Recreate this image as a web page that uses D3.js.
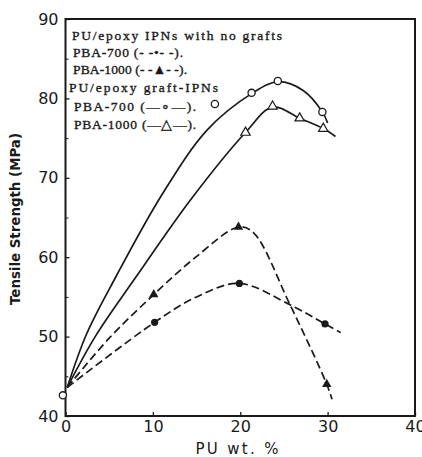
<!DOCTYPE html>
<html>
<head>
<meta charset="utf-8">
<script src="https://cdn.jsdelivr.net/npm/d3@7"></script>
<style>
  html, body { margin: 0; padding: 0; background: #fff; }
  svg { display: block; }
</style>
</head>
<body>
<div id="chart-area"></div>
<script>
// tick labels
const xTicks = [0, 10, 20, 30, 40];
const yTicks = [40, 50, 60, 70, 80, 90];
const yMinorTicks = [45, 55, 65, 75, 85];

// measured points (PU wt.%, MPa)
const graft700Pts = [[-0.3, 42.6], [17.1, 79.3], [21.3, 80.7], [24.3, 82.2], [29.4, 78.3]];
const graft1000Pts = [[20.6, 75.7], [23.7, 79.0], [26.8, 77.5], [29.5, 76.2]];
const noGraft700Pts = [[10.2, 51.8], [19.9, 56.7], [29.7, 51.6]];
const noGraft1000Pts = [[10.1, 55.3], [19.8, 63.8], [29.9, 44.0]];

// hand drawn curves
const graft700Curve = [[0.2, 43.6], [2.4, 50.3], [5.8, 57.6], [11.0, 67.8], [16.2, 76.0],
  [21.3, 80.6], [24.3, 82.1], [27.2, 81.0], [29.4, 78.3], [30.0, 76.9]];
const graft1000Curve = [[0.2, 43.6], [3.4, 50.0], [8.0, 57.4], [14.3, 67.2], [20.6, 75.7],
  [23.7, 78.9], [26.8, 77.5], [29.5, 76.2], [30.9, 75.2]];
const noGraft700Curve = [[0.2, 43.6], [10.2, 51.8], [15.0, 55.0], [19.9, 56.7],
  [25.7, 54.0], [29.7, 51.6], [31.5, 50.5]];
const noGraft1000Curve = [[0.2, 43.6], [5.0, 49.8], [10.1, 55.3], [14.9, 60.0], [19.8, 63.8],
  [21.5, 63.1], [25.7, 54.0], [29.9, 44.0], [30.5, 42.1]];

const legendLines = [
  { text: 'PU/epoxy IPNs with no grafts', x: 72, y: 40, len: 210 },
  { text: 'PBA-700 (- -\u2022- -).', x: 73, y: 57, len: 110 },
  { text: 'PBA-1000 (- -\u25B2- -).', x: 73, y: 74, len: 114 },
  { text: 'PU/epoxy graft-IPNs', x: 69, y: 92, len: 149 },
  { text: 'PBA-700 (\u2014\u2218\u2014).', x: 74, y: 111, len: 122 },
  { text: 'PBA-1000 (\u2014\u25B3\u2014).', x: 74, y: 129, len: 122 },
];

let width = 422;
let height = 457;
let ink = '#1a1a1a';

let x = d3.scaleLinear().domain([0, 40]).range([65.5, 415]);
let y = d3.scaleLinear().domain([40, 90]).range([416, 19]);

let svg = d3
  .select('#chart-area')
  .append('svg')
  .attr('width', width)
  .attr('height', height);

//frame
svg
  .append('rect')
  .attr('x', x(0))
  .attr('y', y(90))
  .attr('width', x(40) - x(0))
  .attr('height', y(40) - y(90))
  .attr('fill', 'none')
  .attr('stroke', ink)
  .attr('stroke-width', 2);

//x axis
let xAxis = svg
  .append('g')
  .attr('transform', `translate(0, ${y(40)})`)
  .call(d3.axisBottom(x).tickValues(xTicks).tickSizeInner(-4).tickSizeOuter(0).tickPadding(5));
xAxis.select('.domain').remove();
xAxis.selectAll('line').attr('stroke', ink).attr('stroke-width', 1.3);
xAxis
  .selectAll('text')
  .attr('fill', ink)
  .attr('font-family', 'DejaVu Sans')
  .attr('font-size', 16);

//y axis
let yAxis = svg
  .append('g')
  .attr('transform', `translate(${x(0)}, 0)`)
  .call(d3.axisLeft(y).tickValues(yTicks).tickSizeInner(-4).tickSizeOuter(0).tickPadding(7));
yAxis.select('.domain').remove();
yAxis.selectAll('line').attr('stroke', ink).attr('stroke-width', 1.3);
yAxis
  .selectAll('text')
  .attr('fill', ink)
  .attr('font-family', 'DejaVu Sans')
  .attr('font-size', 16);

let yMinor = svg
  .append('g')
  .attr('transform', `translate(${x(0)}, 0)`)
  .call(d3.axisLeft(y).tickValues(yMinorTicks).tickSize(-3).tickFormat(''));
yMinor.select('.domain').remove();
yMinor.selectAll('line').attr('stroke', ink).attr('stroke-width', 1);

//axis titles
svg
  .append('text')
  .text('Tensile Strength (MPa)')
  .attr('font-family', 'DejaVu Sans')
  .attr('font-weight', 'bold')
  .attr('font-size', 13.5)
  .attr('fill', ink)
  .attr('text-anchor', 'middle')
  .attr('textLength', 172)
  .attr('lengthAdjust', 'spacingAndGlyphs')
  .attr('transform', 'translate(20, 219) rotate(-90)');

svg
  .append('text')
  .text('PU wt. %')
  .attr('font-family', 'DejaVu Sans')
  .attr('font-size', 15)
  .attr('fill', ink)
  .attr('x', 237)
  .attr('y', 454)
  .attr('text-anchor', 'middle')
  .attr('textLength', 83)
  .attr('lengthAdjust', 'spacing');

//curves
let line = d3
  .line()
  .x((d) => x(d[0]))
  .y((d) => y(d[1]))
  .curve(d3.curveCatmullRom.alpha(0.5));

let curves = [
  { pts: graft700Curve, dash: null },
  { pts: graft1000Curve, dash: null },
  { pts: noGraft700Curve, dash: '8,4' },
  { pts: noGraft1000Curve, dash: '8,4' },
];
svg
  .append('g')
  .selectAll('path')
  .data(curves)
  .enter()
  .append('path')
  .attr('d', (d) => line(d.pts))
  .attr('fill', 'none')
  .attr('stroke', ink)
  .attr('stroke-width', 1.7)
  .attr('stroke-dasharray', (d) => d.dash);

//markers
let marks = svg.append('g');
marks
  .selectAll('circle.open')
  .data(graft700Pts)
  .enter()
  .append('circle')
  .attr('class', 'open')
  .attr('cx', (d) => x(d[0]))
  .attr('cy', (d) => y(d[1]))
  .attr('r', 3.6)
  .attr('fill', '#fff')
  .attr('stroke', ink)
  .attr('stroke-width', 1.3);
marks
  .selectAll('circle.filled')
  .data(noGraft700Pts)
  .enter()
  .append('circle')
  .attr('class', 'filled')
  .attr('cx', (d) => x(d[0]))
  .attr('cy', (d) => y(d[1]))
  .attr('r', 3.6)
  .attr('fill', ink);

let tri = d3.symbol().type(d3.symbolTriangle);
marks
  .selectAll('path.open')
  .data(graft1000Pts)
  .enter()
  .append('path')
  .attr('class', 'open')
  .attr('d', tri.size(38))
  .attr('transform', (d) => `translate(${x(d[0])}, ${y(d[1])})`)
  .attr('fill', '#fff')
  .attr('stroke', ink)
  .attr('stroke-width', 1.2);
marks
  .selectAll('path.filled')
  .data(noGraft1000Pts)
  .enter()
  .append('path')
  .attr('class', 'filled')
  .attr('d', tri.size(38))
  .attr('transform', (d) => `translate(${x(d[0])}, ${y(d[1])})`)
  .attr('fill', ink);

//legend text
svg
  .append('g')
  .selectAll('text')
  .data(legendLines)
  .enter()
  .append('text')
  .text((d) => d.text)
  .attr('x', (d) => d.x)
  .attr('y', (d) => d.y)
  .attr('textLength', (d) => d.len)
  .attr('lengthAdjust', 'spacing')
  .attr('font-family', 'Liberation Serif')
  .attr('font-size', 13.5)
  .attr('fill', ink)
  .attr('stroke', ink)
  .attr('stroke-width', 0.35);
</script>
</body>
</html>
